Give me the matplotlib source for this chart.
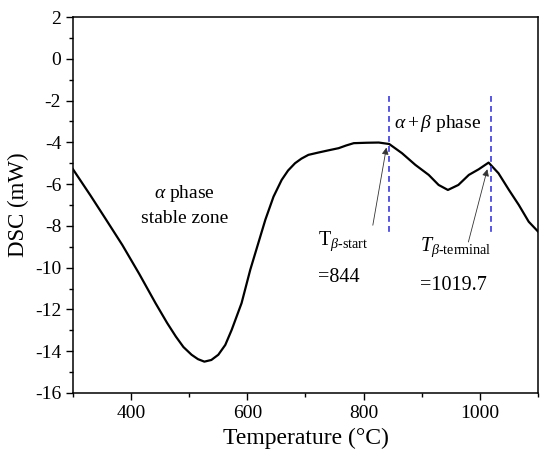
import numpy as np
import matplotlib
matplotlib.use("Agg")
import matplotlib.pyplot as plt

# DSC curve
temp = [300, 330, 356, 385, 414, 442, 462, 477, 490, 504, 515, 526, 538, 550, 562,
        573, 590, 605, 618, 631, 645, 659, 670, 682, 693, 705, 722, 740, 757, 770,
        783, 805, 826, 844, 866, 889, 912, 929, 945, 963, 981, 998, 1015, 1032,
        1050, 1067, 1084, 1100]
dsc = [-5.29, -6.54, -7.66, -8.92, -10.3, -11.7, -12.65, -13.3, -13.8, -14.17,
       -14.38, -14.5, -14.42, -14.17, -13.7, -12.98, -11.7, -10.1, -8.9, -7.7,
       -6.6, -5.8, -5.35, -5.0, -4.78, -4.6, -4.49, -4.38, -4.28, -4.15, -4.04,
       -4.02, -4.01, -4.08, -4.52, -5.08, -5.56, -6.04, -6.28, -6.04, -5.56,
       -5.29, -4.97, -5.48, -6.28, -7.0, -7.8, -8.27]

t_start = 844
t_end = 1019.7

plt.rcParams['font.family'] = 'Liberation Serif'
plt.rcParams['mathtext.fontset'] = 'custom'
plt.rcParams['mathtext.rm'] = 'Liberation Serif'
plt.rcParams['mathtext.it'] = 'Liberation Serif:italic'
plt.rcParams['axes.unicode_minus'] = False

fig = plt.figure(figsize=(5.5, 4.66), dpi=100)
ax = fig.add_axes([0.1327, 0.1567, 0.8455, 0.8068])

ax.plot(temp, dsc, color='black', lw=1.6)

for t in [t_start, t_end]:
    ax.plot([t, t], [-1.8, -8.5], color='#3a3adf', lw=1.2, ls=(0, (3.5, 2.5)))

ax.annotate('', xy=(840, -4.12), xytext=(815, -8.1),
            arrowprops=dict(arrowstyle='-|>', lw=0.6, color='#333333',
                            mutation_scale=10))
ax.annotate('', xy=(1014, -5.16), xytext=(979, -8.9),
            arrowprops=dict(arrowstyle='-|>', lw=0.6, color='#333333',
                            mutation_scale=10))

ax.text(722, -8.75, r'T$_{\beta\text{-start}}$', fontsize=14.5, va='center')
ax.text(722, -10.45, '=844', fontsize=14.5, va='center')
ax.text(897, -9.0, r'$T_{\beta\text{-terminal}}$', fontsize=14.5, va='center')
ax.text(897, -10.85, '=1019.7', fontsize=14.5, va='center')
ax.text(853, -3.1, r'$\alpha+\beta$ phase', fontsize=14, va='center')
ax.text(492, -6.43, r'$\alpha$ phase', fontsize=14, ha='center', va='center')
ax.text(492, -7.63, 'stable zone', fontsize=14, ha='center', va='center')

ax.set_xlim(300, 1100)
ax.set_ylim(-16, 2)
ax.set_xticks([400, 600, 800, 1000])
ax.set_xticks([300, 500, 700, 900, 1100], minor=True)
ax.set_yticks(np.arange(-16, 3, 2))
ax.set_yticks(np.arange(-15, 2, 2), minor=True)
ax.tick_params(which='major', direction='out', length=5, width=1, labelsize=14)
ax.tick_params(which='minor', direction='out', length=3, width=1)
for s in ax.spines.values():
    s.set_linewidth(1.1)

ax.set_xlabel('Temperature (°C)', fontsize=17)
ax.set_ylabel('DSC (mW)', fontsize=16.5)

fig.savefig('out.png', dpi=100)
